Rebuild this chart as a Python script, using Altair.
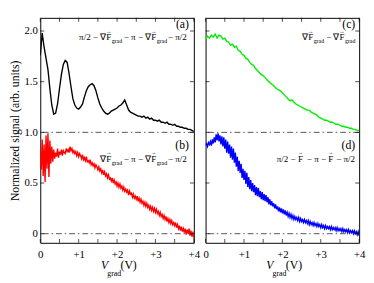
import altair as alt
import pandas as pd

# ---------------- data ----------------
STEP_SMOOTH = 0.05   # x spacing of the black and green traces (V)
STEP_NOISY = 0.025   # x spacing of the red and blue traces (V)

# (a) black, x = 0 .. 4 step 0.05
BLACK_A = [
    1.76, 1.98, 1.84, 1.73, 1.62, 1.43, 1.27, 1.18, 1.19, 1.28,
    1.43, 1.57, 1.67, 1.71, 1.69, 1.58, 1.45, 1.33, 1.27, 1.24,
    1.23, 1.25, 1.28, 1.35, 1.41, 1.45, 1.47, 1.48, 1.46, 1.41,
    1.34, 1.28, 1.24, 1.21, 1.19, 1.18, 1.19, 1.21, 1.22, 1.23,
    1.24, 1.26, 1.27, 1.29, 1.32, 1.27, 1.22, 1.20, 1.19, 1.18,
    1.17, 1.16, 1.16, 1.15, 1.16, 1.14, 1.15, 1.13, 1.14, 1.12,
    1.12, 1.11, 1.12, 1.10, 1.10, 1.09, 1.10, 1.08, 1.08, 1.07,
    1.08, 1.06, 1.06, 1.05, 1.05, 1.04, 1.04, 1.03, 1.03, 1.02,
    1.01,
]

# (c) green, x = 0 .. 4 step 0.05
GREEN_C = [
    1.92, 1.95, 1.93, 1.96, 1.94, 1.97, 1.93, 1.96, 1.95, 1.92,
    1.93, 1.90, 1.89, 1.86, 1.87, 1.84, 1.85, 1.81, 1.80, 1.77,
    1.76, 1.73, 1.72, 1.69, 1.67, 1.66, 1.63, 1.61, 1.59, 1.57,
    1.56, 1.54, 1.52, 1.50, 1.48, 1.47, 1.45, 1.43, 1.42, 1.41,
    1.39, 1.37, 1.35, 1.33, 1.31, 1.32, 1.30, 1.28, 1.27, 1.26,
    1.25, 1.24, 1.23, 1.22, 1.22, 1.20, 1.19, 1.18, 1.17, 1.15,
    1.14, 1.13, 1.12, 1.12, 1.11, 1.10, 1.10, 1.09, 1.08, 1.08,
    1.07, 1.06, 1.06, 1.05, 1.05, 1.04, 1.04, 1.03, 1.03, 1.02,
    1.02,
]

# (b) red, x = 0 .. 4 step 0.025
RED_B = [
    0.82, 0.63, 0.93, 0.57, 0.88, 0.51, 0.97, 0.64, 0.99, 0.56,
    0.92, 0.69, 0.86, 0.71, 0.83, 0.74, 0.80, 0.76, 0.84, 0.75,
    0.81, 0.78, 0.83, 0.77, 0.82, 0.80, 0.79, 0.84, 0.81, 0.83,
    0.80, 0.86, 0.82, 0.84, 0.80, 0.82, 0.79, 0.81, 0.77, 0.80,
    0.76, 0.79, 0.77, 0.74, 0.78, 0.73, 0.75, 0.72, 0.76, 0.71,
    0.72, 0.70, 0.73, 0.68, 0.70, 0.67, 0.69, 0.65, 0.68, 0.66,
    0.63, 0.66, 0.62, 0.64, 0.60, 0.63, 0.58, 0.61, 0.57, 0.59,
    0.55, 0.58, 0.54, 0.55, 0.52, 0.55, 0.50, 0.53, 0.49, 0.51,
    0.47, 0.50, 0.46, 0.49, 0.45, 0.47, 0.43, 0.46, 0.42, 0.44,
    0.41, 0.43, 0.38, 0.42, 0.39, 0.40, 0.36, 0.39, 0.35, 0.37,
    0.34, 0.37, 0.32, 0.35, 0.31, 0.34, 0.30, 0.32, 0.28, 0.31,
    0.27, 0.30, 0.26, 0.28, 0.24, 0.27, 0.23, 0.26, 0.22, 0.25,
    0.21, 0.24, 0.20, 0.22, 0.18, 0.21, 0.17, 0.19, 0.15, 0.18,
    0.14, 0.17, 0.12, 0.15, 0.11, 0.14, 0.10, 0.13, 0.09, 0.11,
    0.08, 0.11, 0.06, 0.09, 0.05, 0.08, 0.03, 0.07, 0.02, 0.05,
    0.01, 0.05, -0.01, 0.04, 0.00, 0.05, -0.02, 0.03, -0.03, 0.02,
    -0.05,
]

# (d) blue, x = 0 .. 4 step 0.025
BLUE_D = [
    0.87, 0.89, 0.86, 0.90, 0.88, 0.91, 0.87, 0.93, 0.89, 0.95,
    0.90, 0.98, 0.92, 0.99, 0.91, 0.97, 0.88, 0.96, 0.86, 0.95,
    0.84, 0.93, 0.80, 0.91, 0.79, 0.88, 0.75, 0.86, 0.73, 0.84,
    0.70, 0.80, 0.66, 0.76, 0.62, 0.72, 0.60, 0.69, 0.55, 0.64,
    0.53, 0.62, 0.49, 0.60, 0.46, 0.56, 0.44, 0.53, 0.42, 0.50,
    0.41, 0.48, 0.38, 0.46, 0.37, 0.45, 0.36, 0.42, 0.34, 0.41,
    0.33, 0.39, 0.32, 0.38, 0.31, 0.36, 0.29, 0.34, 0.28, 0.32,
    0.27, 0.30, 0.25, 0.29, 0.24, 0.27, 0.22, 0.26, 0.21, 0.25,
    0.20, 0.24, 0.19, 0.23, 0.18, 0.21, 0.17, 0.20, 0.16, 0.19,
    0.15, 0.18, 0.14, 0.17, 0.14, 0.16, 0.13, 0.16, 0.12, 0.15,
    0.12, 0.14, 0.11, 0.14, 0.11, 0.13, 0.10, 0.13, 0.09, 0.12,
    0.09, 0.11, 0.08, 0.11, 0.08, 0.10, 0.07, 0.10, 0.07, 0.09,
    0.06, 0.09, 0.06, 0.08, 0.05, 0.08, 0.05, 0.07, 0.05, 0.07,
    0.04, 0.07, 0.04, 0.06, 0.04, 0.06, 0.03, 0.06, 0.03, 0.05,
    0.03, 0.05, 0.02, 0.05, 0.02, 0.04, 0.02, 0.04, 0.01, 0.04,
    0.01, 0.03, 0.01, 0.03, 0.00, 0.03, 0.00, 0.02, -0.01, 0.02,
    -0.02,
]

X_TICKS = [0, 0.5, 1, 1.5, 2, 2.5, 3, 3.5, 4]
X_LABEL_VALUES = [0, 1, 2, 3, 4]
Y_TICKS = [0, 0.5, 1, 1.5, 2]
REF_LINES = [0, 1]
X_DOMAIN = [0, 4]
Y_DOMAIN = [-0.09, 2.13]

Y_TITLE = "Normalized signal (arb. units)"
X_TITLE = ["V", "grad", "(V)"]
PANEL_LABELS = ["(a)", "(b)", "(c)", "(d)"]
ARROW = "\u2192"
SUB = "grad"
FORM_A = ["\u03c0/2 \u2212 \u2207F", "\u2212 \u03c0 \u2212 \u2207F", "\u2212 \u03c0/2"]
FORM_B = ["\u2207F", "\u2212 \u03c0 \u2212 \u2207F", "\u2212 \u03c0/2"]
FORM_C = ["\u2207F", "\u2212 \u2207F"]
FORM_D = ["\u03c0/2 \u2212 F", "\u2212 \u03c0 \u2212 F", "\u2212 \u03c0/2"]

COLORS = {"a": "#000000", "b": "#ff0000", "c": "#00ee00", "d": "#0000ff"}

# ---------------- chart ----------------
W, H = 157, 230
FONT = "Liberation Serif, Times New Roman, serif"

xs = alt.Scale(domain=X_DOMAIN, nice=False, zero=False)
ys = alt.Scale(domain=Y_DOMAIN, nice=False, zero=False)

XAX = alt.Axis(values=X_LABEL_VALUES,
               labelExpr="datum.value == 0 ? '0' : '+' + datum.value",
               ticks=False, domain=False, grid=False, title=None,
               labelFont=FONT, labelFontSize=11, labelColor="black",
               labelPadding=6, labelFlush=False)
YAX_LEFT = alt.Axis(values=Y_TICKS,
                    labelExpr="datum.value == 0 ? '0' : format(datum.value, '.1f')",
                    ticks=False, domain=False, grid=False, title=Y_TITLE,
                    titleFont=FONT, titleFontSize=12, titleFontWeight="normal",
                    titleColor="black", titlePadding=2,
                    labelFont=FONT, labelFontSize=11, labelColor="black",
                    labelPadding=3)


def series_df(vals, step):
    return pd.DataFrame({"x": [round(i * step, 4) for i in range(len(vals))], "y": vals})


def line(vals, step, color, yax):
    return alt.Chart(series_df(vals, step)).mark_line(
        color=color, strokeWidth=1.4, clip=True
    ).encode(x=alt.X("x:Q", scale=xs, axis=XAX), y=alt.Y("y:Q", scale=ys, axis=yax))


def rules(yax):
    return alt.Chart(pd.DataFrame({"r": REF_LINES})).mark_rule(
        color="#555555", strokeWidth=1, strokeDash=[6, 3, 1.5, 3]
    ).encode(y=alt.Y("r:Q", scale=ys, axis=yax))


def ticks(yax):
    xt = pd.DataFrame({"v": X_TICKS})
    yt = pd.DataFrame({"v": Y_TICKS})
    out = []
    for yy in (H - 2, 2):
        out.append(alt.Chart(xt).mark_tick(orient="vertical", size=4, thickness=1, color="black")
                   .encode(x=alt.X("v:Q", scale=xs, axis=XAX), y=alt.value(yy)))
    for xx in (2, W - 2):
        out.append(alt.Chart(yt).mark_tick(orient="horizontal", size=4, thickness=1, color="black")
                   .encode(y=alt.Y("v:Q", scale=ys, axis=yax), x=alt.value(xx)))
    return out


def txt(s, x, y, size, align="left", italic=False):
    return alt.Chart(pd.DataFrame({"t": [s]})).mark_text(
        align=align, baseline="alphabetic", font=FONT, fontSize=size,
        fontStyle="italic" if italic else "normal", color="black"
    ).encode(x=alt.value(x), y=alt.value(y), text="t:N")


def vecF(anchor, yb, grad=True):
    """Arrow over an F that ends at `anchor`, plus its 'grad' subscript."""
    out = [txt(ARROW, anchor - 2.6, yb - 7.5, 6, "center")]
    if grad:
        out.append(txt(SUB, anchor + 0.5, yb + 3, 6))
    return out


def xtitle():
    return [txt(X_TITLE[0], 62, H + 27, 12, italic=True),
            txt(X_TITLE[1], 68.5, H + 34, 8),
            txt(X_TITLE[2], 82, H + 27, 12)]


FS = 9.2


def chain3(parts, yb, a1, a2, a3, grad=True):
    return ([txt(parts[0], a1, yb, FS, "right"),
             txt(parts[1], a2, yb, FS, "right"),
             txt(parts[2], a3, yb, FS)]
            + vecF(a1, yb, grad) + vecF(a2, yb, grad))


left_texts = ([txt(PANEL_LABELS[0], 152, 10, 12, "right"),
               txt(PANEL_LABELS[1], 152, 134, 12, "right")]
              + chain3(FORM_A, 23, 72.5, 118.5, 130.5)
              + chain3(FORM_B, 147, 72.5, 118.5, 130.5)
              + xtitle())

right_texts = ([txt(PANEL_LABELS[2], 153, 10, 12, "right"),
                txt(PANEL_LABELS[3], 153, 134, 12, "right"),
                txt(FORM_C[0], 110, 23, FS, "right"),
                txt(FORM_C[1], 142, 23, FS, "right")]
               + vecF(110, 23) + vecF(142, 23)
               + chain3(FORM_D, 147, 99.5, 130.5, 133.5, grad=False)
               + xtitle())

left = alt.layer(
    rules(YAX_LEFT),
    line(BLACK_A, STEP_SMOOTH, COLORS["a"], YAX_LEFT),
    line(RED_B, STEP_NOISY, COLORS["b"], YAX_LEFT),
    *ticks(YAX_LEFT),
    *left_texts,
).properties(width=W, height=H)

right = alt.layer(
    rules(None),
    line(GREEN_C, STEP_SMOOTH, COLORS["c"], None),
    line(BLUE_D, STEP_NOISY, COLORS["d"], None),
    *ticks(None),
    *right_texts,
).properties(width=W, height=H)

chart = alt.hconcat(left, right, spacing=12, bounds="flush").properties(
    padding={"left": 0, "top": 6, "right": 0, "bottom": 0},
    background="white",
).configure_view(stroke="black", strokeWidth=1)

chart.save("out.html", embed_options={"renderer": "svg", "actions": False})
